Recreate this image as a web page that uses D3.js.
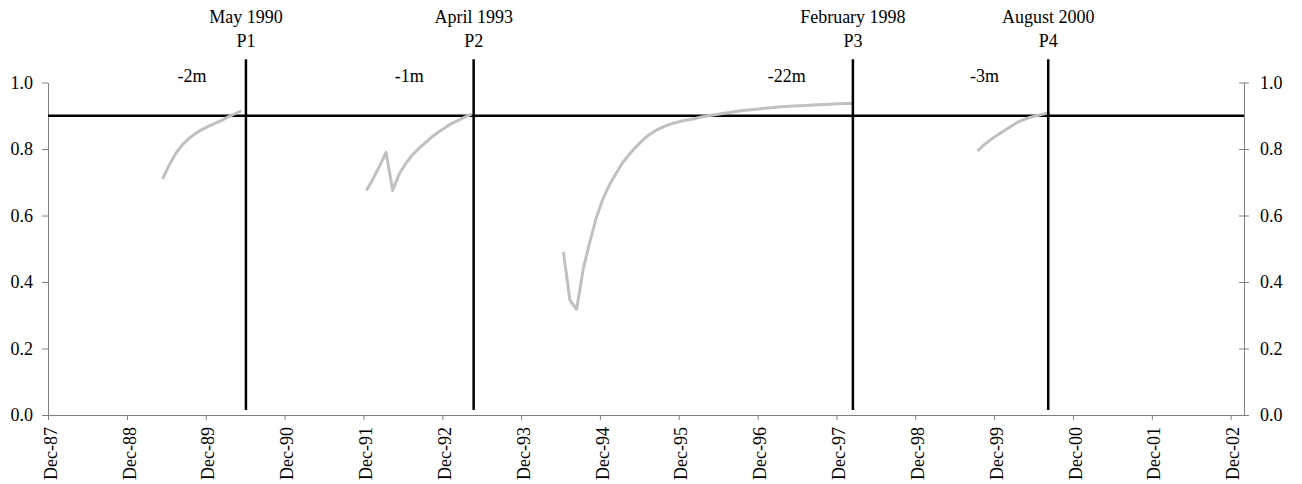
<!DOCTYPE html>
<html>
<head>
<meta charset="utf-8">
<script src="https://cdn.jsdelivr.net/npm/d3@7"></script>
<style>
  body { margin: 0; background: #fff; }
  text { font-family: "Liberation Serif", "Times New Roman", serif; font-size: 18px; fill: #000; }
  .axis path, .axis line { stroke: #808080; }
</style>
</head>
<body>
<svg width="1302" height="484"></svg>
<script>
// ---- data ----
// each curve: first month (points sit mid-month) and monthly values
var curve1Start = "1989-05", curve1 = [0.71, 0.752, 0.787, 0.813, 0.832, 0.847, 0.859, 0.869, 0.878, 0.887, 0.897, 0.906, 0.915];
var curve2Start = "1991-12", curve2 = [0.675, 0.71, 0.75, 0.79, 0.675, 0.725, 0.757, 0.782, 0.802, 0.82, 0.837, 0.852, 0.865, 0.877, 0.887, 0.896, 0.905];
var curve3Start = "1994-06", curve3 = [0.49, 0.345, 0.318, 0.44, 0.52, 0.595, 0.65, 0.693, 0.728, 0.758, 0.783, 0.805, 0.825, 0.842, 0.855, 0.865,
  0.873, 0.879, 0.884, 0.888, 0.892, 0.896, 0.900, 0.903, 0.906, 0.909, 0.912, 0.915, 0.917, 0.919, 0.921, 0.923, 0.925, 0.927,
  0.928, 0.929, 0.930, 0.931, 0.932, 0.933, 0.934, 0.935, 0.936, 0.937, 0.937];
var curve4Start = "1999-09", curve4 = [0.794, 0.812, 0.828, 0.841, 0.854, 0.867, 0.879, 0.888, 0.895, 0.900, 0.905, 0.910];

var threshold = 0.9;
var peakNames = ["P1", "P2", "P3", "P4"];
var peakLabels = ["May 1990", "April 1993", "February 1998", "August 2000"];
var peakDates = ["1990-06-05", "1993-04-25", "1998-02-15", "2000-08-08"];
var lagLabels = ["-2m", "-1m", "-22m", "-3m"];
var lagDates = ["1989-09-28", "1992-07-01", "1997-04-15", "1999-10-18"];
var yTicks = [0, 0.2, 0.4, 0.6, 0.8, 1.0];
var tickYears = d3.range(1987, 2003);

var parseMonth = d3.timeParse("%Y-%m"), parseDay = d3.timeParse("%Y-%m-%d");

var svg = d3.select("svg"),
    margin = {top: 82.5, right: 58, bottom: 69, left: 48},
    width = +svg.attr("width") - margin.left - margin.right,
    height = +svg.attr("height") - margin.top - margin.bottom;

var g = svg.append("g").attr("transform", "translate(" + margin.left + "," + margin.top + ")");

var x = d3.scaleTime().domain([new Date(1987, 11, 1), new Date(2003, 1, 1)]).range([0, width]);
var y = d3.scaleLinear().domain([0, 1]).range([height, 0]);

// axes
var xAxis = g.append("g").attr("class", "axis")
  .attr("transform", "translate(0," + height + ")")
  .call(d3.axisBottom(x)
    .tickValues(tickYears.map(function(yr) { return new Date(yr, 11, 1); }))
    .tickFormat(d3.timeFormat("%b-%y"))
    .tickSize(5).tickSizeOuter(0));
xAxis.selectAll("text")
  .attr("transform", "rotate(-90)")
  .attr("x", -12).attr("y", 0).attr("dy", "0.45em")
  .style("text-anchor", "end");

g.append("g").attr("class", "axis")
  .call(d3.axisLeft(y).tickValues(yTicks).tickFormat(d3.format(".1f")).tickSize(6).tickSizeOuter(0).tickPadding(9));

var right = g.append("g").attr("class", "axis")
  .attr("transform", "translate(" + width + ",0)")
  .call(d3.axisRight(y).tickValues(yTicks).tickFormat(d3.format(".1f")).tickSize(5).tickSizeOuter(0).tickPadding(11));
right.selectAll(".tick line").attr("x1", -5);
svg.selectAll(".axis text").style("font-family", "Liberation Serif").style("font-size", "18px").attr("fill", "#000");

// threshold line
g.append("line")
  .attr("x1", x.range()[0]).attr("x2", x.range()[1])
  .attr("y1", y(threshold)).attr("y2", y(threshold))
  .attr("stroke", "#000").attr("stroke-width", 2.5);

// gray curves
var line = d3.line().x(function(d) { return x(d.date); }).y(function(d) { return y(d.value); });
[[curve1Start, curve1], [curve2Start, curve2], [curve3Start, curve3], [curve4Start, curve4]].forEach(function(c) {
  var start = parseMonth(c[0]);
  var pts = c[1].map(function(v, i) {
    return {date: d3.timeDay.offset(d3.timeMonth.offset(start, i), 14), value: v};
  });
  g.append("path").datum(pts)
    .attr("d", line)
    .attr("fill", "none").attr("stroke", "#c0c0c0").attr("stroke-width", 3)
    .attr("stroke-linejoin", "round");
});

// peak markers
peakDates.forEach(function(d, i) {
  var px = x(parseDay(d));
  g.append("line")
    .attr("x1", px).attr("x2", px)
    .attr("y1", y(0.015)).attr("y2", y(1.07))
    .attr("stroke", "#000").attr("stroke-width", 2.5);
  g.append("text").attr("x", px).attr("y", 23 - margin.top)
    .attr("text-anchor", "middle").text(peakLabels[i]);
  g.append("text").attr("x", px).attr("y", 47 - margin.top)
    .attr("text-anchor", "middle").text(peakNames[i]);
  g.append("text").attr("x", x(parseDay(lagDates[i]))).attr("y", 82 - margin.top)
    .attr("text-anchor", "middle").text(lagLabels[i]);
});
</script>
</body>
</html>
